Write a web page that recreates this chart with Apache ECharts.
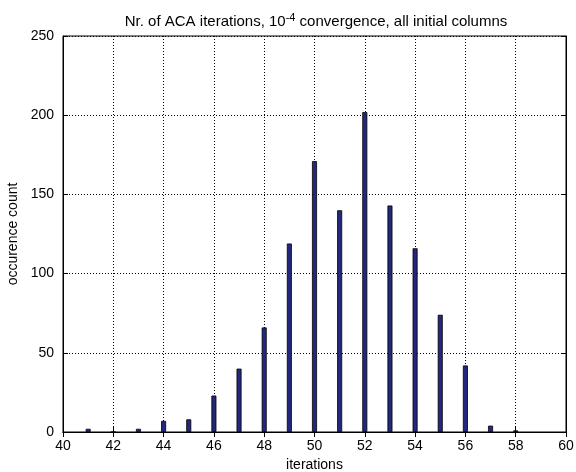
<!DOCTYPE html>
<html><head><meta charset="utf-8">
<script src="https://cdn.jsdelivr.net/npm/echarts@6/dist/echarts.min.js"></script>
<style>html,body{margin:0;padding:0;background:#fff}#c{width:576px;height:472px}</style>
</head><body><div id="c"></div>
<script>
const iterations = [41,42,43,44,45,46,47,48,49,50,51,52,53,54,55,56,57,58];
const counts = [2,0,2,7,8,23,40,66,119,171,140,202,143,116,74,42,4,1];
const xTicks = [40,42,44,46,48,50,52,54,56,58,60];
const yTicks = [0,50,100,150,200,250];

const chart = echarts.init(document.getElementById('c'));
const font = 'Liberation Sans, Arial, sans-serif';
const barData = iterations.map((x,i)=>[x,counts[i]]);
chart.setOption({
  animation:false,
  backgroundColor:'#fff',
  title:{
    text:'Nr. of ACA iterations, 10{sup|-4} convergence, all initial columns',
    left:311, top:7, textAlign:'center',
    textStyle:{fontFamily:font,fontSize:15,fontWeight:'normal',color:'#000',
      rich:{sup:{fontFamily:font,fontSize:11,verticalAlign:'top',padding:[0,0,9,0],color:'#000'}}}
  },
  grid:{left:63,right:10,top:36,bottom:40,outerBoundsMode:'none',containLabel:false,show:true,borderColor:'#000',borderWidth:1,backgroundColor:'#fff'},
  xAxis:[{
    type:'value',min:40,max:60,interval:2,
    name:'iterations',nameLocation:'middle',nameGap:25,
    nameTextStyle:{fontFamily:font,fontSize:14,color:'#000'},
    axisLine:{show:true,lineStyle:{color:'#000',width:1}},
    axisTick:{show:true,inside:true,length:5,lineStyle:{color:'#000'}},
    axisLabel:{fontFamily:font,fontSize:14,color:'#000',margin:7},
    splitLine:{show:true,lineStyle:{color:'#000',type:[1,2],width:1}}
  },{
    type:'value',min:40,max:60,interval:2,position:'top',
    axisLine:{show:true,lineStyle:{color:'#000'}},
    axisTick:{show:true,inside:true,length:5,lineStyle:{color:'#000'}},
    axisLabel:{show:false},splitLine:{show:false}
  }],
  yAxis:[{
    type:'value',min:0,max:250,interval:50,
    name:'occurence count',nameLocation:'middle',nameGap:38,nameRotate:90,
    nameTextStyle:{fontFamily:font,fontSize:14,color:'#000'},
    axisLine:{show:true,lineStyle:{color:'#000',width:1}},
    axisTick:{show:true,inside:true,length:5,lineStyle:{color:'#000'}},
    axisLabel:{fontFamily:font,fontSize:14,color:'#000',margin:9},
    splitLine:{show:true,lineStyle:{color:'#000',type:[1,2],width:1}}
  },{
    type:'value',min:0,max:250,interval:50,position:'right',
    axisLine:{show:true,lineStyle:{color:'#000'}},
    axisTick:{show:true,inside:true,length:5,lineStyle:{color:'#000'}},
    axisLabel:{show:false},splitLine:{show:false}
  }],
  series:[{
    type:'bar',data:barData,barWidth:5,xAxisIndex:0,yAxisIndex:0,
    itemStyle:{color:'#24287c',borderColor:'#000',borderWidth:0.8},
    z:5
  }]
});
</script></body></html>
